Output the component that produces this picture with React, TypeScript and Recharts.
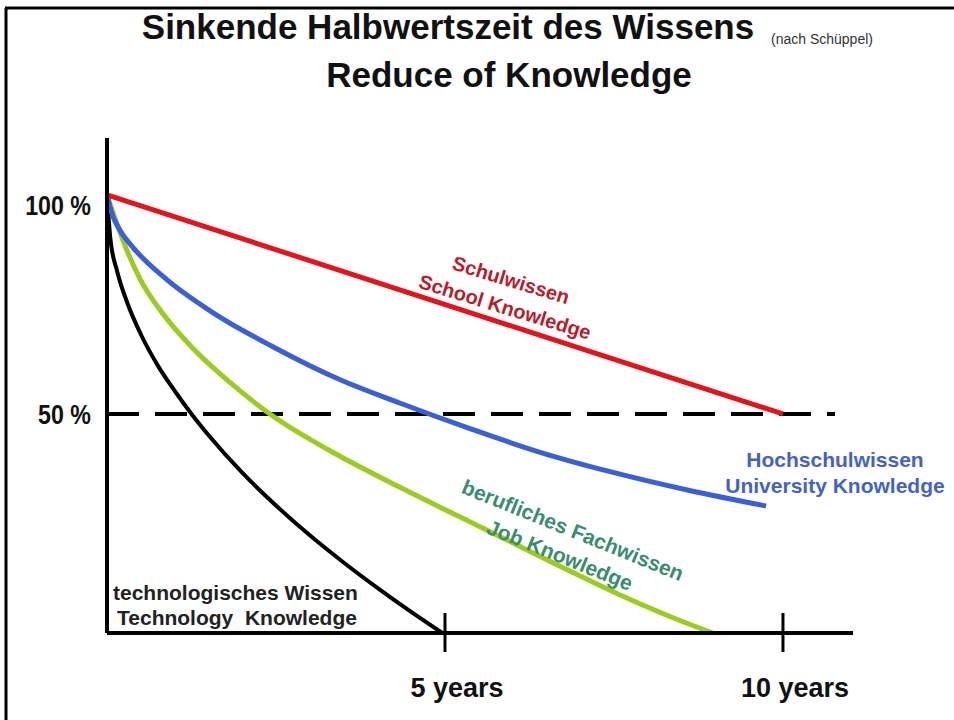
import React from 'react';
import { LineChart, Line, XAxis, YAxis, ReferenceLine } from 'recharts';

// ---- Data (years since learning -> % of knowledge still valid) ----
const schoolYears = [0, 10];
const schoolValues = [100, 50];

const universityYears = [0, 0.07, 0.19, 0.38, 0.89, 1.57, 2.46, 3.45, 4.33, 5.38, 6.42, 7.4, 8.6, 9.75];
const universityValues = [100, 95.9, 92, 88.1, 80.6, 73.1, 65.3, 57.8, 52.5, 46.6, 41.2, 37, 32.6, 29];

const jobYears = [0, 0.09, 0.27, 0.49, 0.83, 1.27, 1.82, 2.41, 3.3, 4.29, 5.18, 6.0, 6.8, 7.6, 8.4, 8.96];
const jobValues = [100, 95.9, 88.3, 80.8, 72.8, 65.0, 57.2, 50, 41.6, 33.6, 26.8, 20.6, 14.5, 8.6, 3.3, 0];

const techYears = [0, 0.05, 0.15, 0.3, 0.5, 0.75, 1.0, 1.25, 1.5, 2.0, 2.5, 3.0, 3.5, 4.0, 4.5, 4.96];
const techValues = [100, 90, 82.6, 75.4, 68.2, 61.1, 55.3, 50, 45.2, 36.6, 29.1, 22.3, 16.1, 10.3, 4.8, 0];

const xTicks = [5, 10];
const xTickLabels = ['5 years', '10 years'];
const yTicks = [50, 100];
const yTickLabels = ['50 %', '100 %'];
const halfLevel = 50;
const halfLineEnd = 10.77;
const xMax = 11.036;
const yMax = 113;

const toPoints = (xs: number[], ys: number[]) => xs.map((x, i) => ({ x, y: ys[i] }));

const FONT = 'Liberation Sans, Arial, Helvetica, sans-serif';

const XTick = (props: any) => {
  const { x, y, payload } = props;
  const i = xTicks.indexOf(payload.value);
  return (
    <g>
      <line x1={x} x2={x} y1={y - 20} y2={y + 19} stroke="#000" strokeWidth={3} />
      <text x={x + 12} y={y + 64} textAnchor="middle" fontFamily={FONT} fontSize={27} fontWeight="bold" fill="#111">
        {xTickLabels[i]}
      </text>
    </g>
  );
};

const YTick = (props: any) => {
  const { x, y, payload } = props;
  const i = yTicks.indexOf(payload.value);
  const dy = payload.value === 100 ? 20 : 10;
  return (
    <g transform={`translate(${x - 16},${y + dy}) scale(0.86 1)`}>
      <text x={0} y={0} textAnchor="end" fontFamily={FONT} fontSize={27} fontWeight="bold" fill="#111">
        {yTickLabels[i]}
      </text>
    </g>
  );
};

const Rot = ({ cx, cy, angle, size, color, children }: any) => (
  <text
    x={cx}
    y={cy}
    textAnchor="middle"
    dominantBaseline="central"
    transform={`rotate(${angle} ${cx} ${cy})`}
    fontFamily={FONT}
    fontSize={size}
    fontWeight="bold"
    fill={color}
  >
    {children}
  </text>
);

export default function App() {
  return (
    <div style={{ position: 'absolute', left: 0, top: 0, width: 954, height: 720, background: '#fff' }}>
      <LineChart
        width={954}
        height={720}
        margin={{ top: 138, left: 0, right: 101, bottom: 0 }}
      >
        <XAxis
          type="number"
          dataKey="x"
          domain={[0, xMax]}
          ticks={xTicks}
          height={87}
          tickSize={0}
          tickMargin={0}
          tickLine={false}
          axisLine={{ stroke: '#000', strokeWidth: 4 }}
          tick={<XTick />}
          allowDataOverflow
        />
        <YAxis
          type="number"
          domain={[0, yMax]}
          ticks={yTicks}
          width={107}
          tickSize={0}
          tickMargin={0}
          tickLine={false}
          axisLine={{ stroke: '#000', strokeWidth: 4 }}
          tick={<YTick />}
          allowDataOverflow
        />
        <ReferenceLine
          segment={[{ x: 0, y: halfLevel }, { x: halfLineEnd, y: halfLevel }]}
          stroke="#000"
          strokeWidth={4}
          strokeDasharray="32 16"
          ifOverflow="visible"
        />
        <Line data={toPoints(techYears, techValues)} dataKey="y" type="monotone" stroke="#000" strokeWidth={4} dot={false} isAnimationActive={false} />
        <Line data={toPoints(jobYears, jobValues)} dataKey="y" type="monotone" stroke="#9ccc22" strokeWidth={5} dot={false} isAnimationActive={false} />
        <Line data={toPoints(universityYears, universityValues)} dataKey="y" type="monotone" stroke="#3a5fd6" strokeWidth={5} dot={false} isAnimationActive={false} />
        <Line data={toPoints(schoolYears, schoolValues)} dataKey="y" type="linear" stroke="#e3141c" strokeWidth={5} dot={false} isAnimationActive={false} />
      </LineChart>
      <svg width={954} height={720} style={{ position: 'absolute', left: 0, top: 0, pointerEvents: 'none' }}>
        <line x1={6} y1={8} x2={6} y2={720} stroke="#000" strokeWidth={3} />
        <line x1={5} y1={8} x2={954} y2={8} stroke="#000" strokeWidth={3} />
        <text x={448} y={39} textAnchor="middle" fontFamily={FONT} fontSize={35} fontWeight="bold" fill="#111">
          Sinkende Halbwertszeit des Wissens
        </text>
        <text x={771} y={44} fontFamily={FONT} fontSize={14} fill="#333">
          (nach Schüppel)
        </text>
        <text x={509} y={87} textAnchor="middle" fontFamily={FONT} fontSize={35} fontWeight="bold" fill="#111">
          Reduce of Knowledge
        </text>

        <Rot cx={511} cy={280} angle={17} size={20} color="#b81c2c">Schulwissen</Rot>
        <Rot cx={505} cy={307} angle={17} size={20} color="#b81c2c">School Knowledge</Rot>

        <text x={835} y={467} textAnchor="middle" fontFamily={FONT} fontSize={21} fontWeight="bold" fill="#4462c4">
          Hochschulwissen
        </text>
        <text x={835} y={493} textAnchor="middle" fontFamily={FONT} fontSize={21} fontWeight="bold" fill="#4462c4">
          University Knowledge
        </text>

        <Rot cx={573} cy={530} angle={22} size={21} color="#3a8c70">berufliches Fachwissen</Rot>
        <Rot cx={560} cy={555} angle={22} size={21} color="#3a8c70">Job Knowledge</Rot>

        <text x={113} y={600} fontFamily={FONT} fontSize={21} fontWeight="bold" fill="#222">
          technologisches Wissen
        </text>
        <text x={117} y={625} fontFamily={FONT} fontSize={21} fontWeight="bold" fill="#222" style={{ whiteSpace: 'pre' }}>
          {'Technology  Knowledge'}
        </text>
      </svg>
    </div>
  );
}
